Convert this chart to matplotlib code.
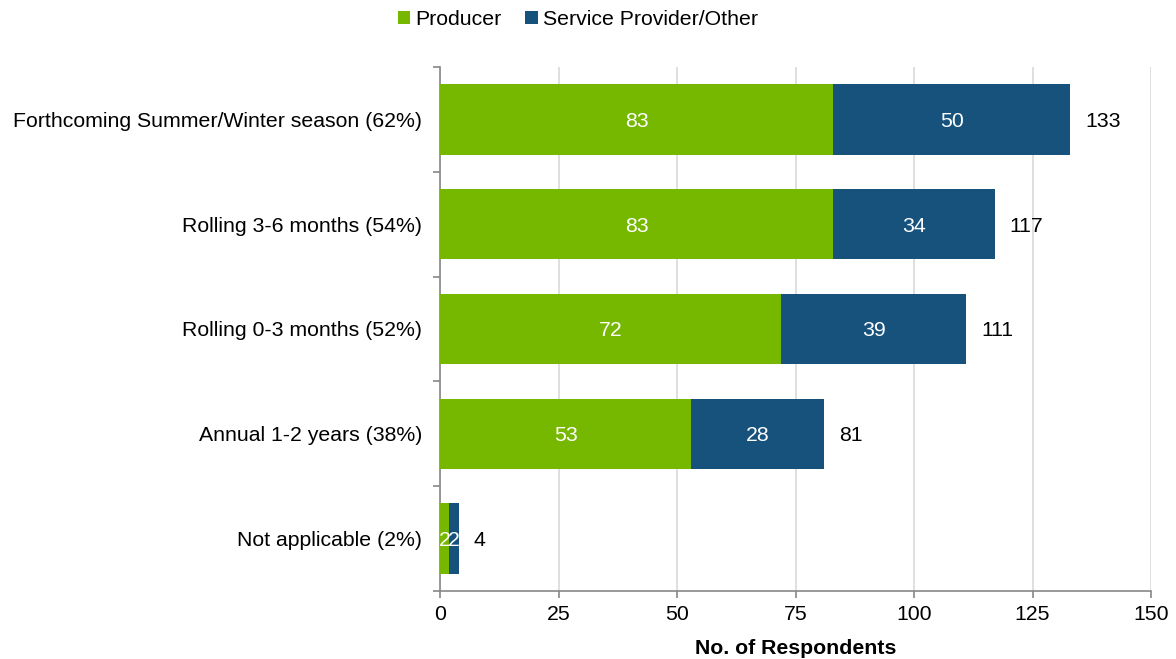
import matplotlib
matplotlib.use("Agg")
import matplotlib.pyplot as plt
import numpy as np

categories = ["Forthcoming Summer/Winter season (62%)", "Rolling 3-6 months (54%)",
              "Rolling 0-3 months (52%)", "Annual 1-2 years (38%)", "Not applicable (2%)"]
producer = [83, 83, 72, 53, 2]
service = [50, 34, 39, 28, 2]
xticks = [0, 25, 50, 75, 100, 125, 150]

FS = 15.3
plt.rcParams['font.family'] = ['Liberation Sans', 'DejaVu Sans']
plt.rcParams['font.size'] = FS

fig = plt.figure(figsize=(11.76, 6.59), dpi=100)
ax = fig.add_axes([440/1176, 1-591/659, (1151-440)/1176, (591-67)/659])

green = "#76B700"
blue = "#17527D"
y = np.arange(len(categories))
h = 0.67
ax.barh(y, producer, height=h, color=green, label="Producer", zorder=3)
ax.barh(y, service, left=producer, height=h, color=blue, label="Service Provider/Other", zorder=3)

for i in range(len(categories)):
    p, s = producer[i], service[i]
    ax.annotate(str(p), (p/2, y[i]), xytext=(0, -2), textcoords="offset pixels",
                color="white", ha="center", va="center", fontsize=FS, zorder=4)
    ax.annotate(str(s), (p + s/2, y[i]), xytext=(0, -2), textcoords="offset pixels",
                color="white", ha="center", va="center", fontsize=FS, zorder=4)
    ax.annotate(str(p + s), (p + s, y[i]), xytext=(15, -2), textcoords="offset pixels",
                ha="left", va="center", fontsize=FS, color="black")

ax.set_xlim(0, 150)
ax.set_ylim(len(categories) - 0.5, -0.5)
ax.set_xticks(xticks)
ax.set_yticks(y)
ax.set_yticklabels(categories)
ax.set_yticks(np.arange(-0.5, len(categories), 1), minor=True)
ax.tick_params(axis='y', which='major', length=0, pad=13)
ax.tick_params(axis='y', which='minor', length=5, color="#888888", width=1.2)
ax.tick_params(axis='x', length=5, color="#888888", width=1.2, pad=5)
ax.grid(axis='x', color="#D9D9D9", linewidth=1.2, zorder=0)
for side in ["top", "right"]:
    ax.spines[side].set_visible(False)
for side in ["left", "bottom"]:
    ax.spines[side].set_color("#888888")
    ax.spines[side].set_linewidth(1.2)
ax.set_xlabel("No. of Respondents", fontweight="bold", fontsize=FS, labelpad=11)

fig.legend(loc="upper center", bbox_to_anchor=(578/1176, 1.014), ncol=2, frameon=False,
           handlelength=0.6, handleheight=0.6, handletextpad=0.25, columnspacing=1.1, fontsize=FS)

fig.savefig("out.png", dpi=100)
